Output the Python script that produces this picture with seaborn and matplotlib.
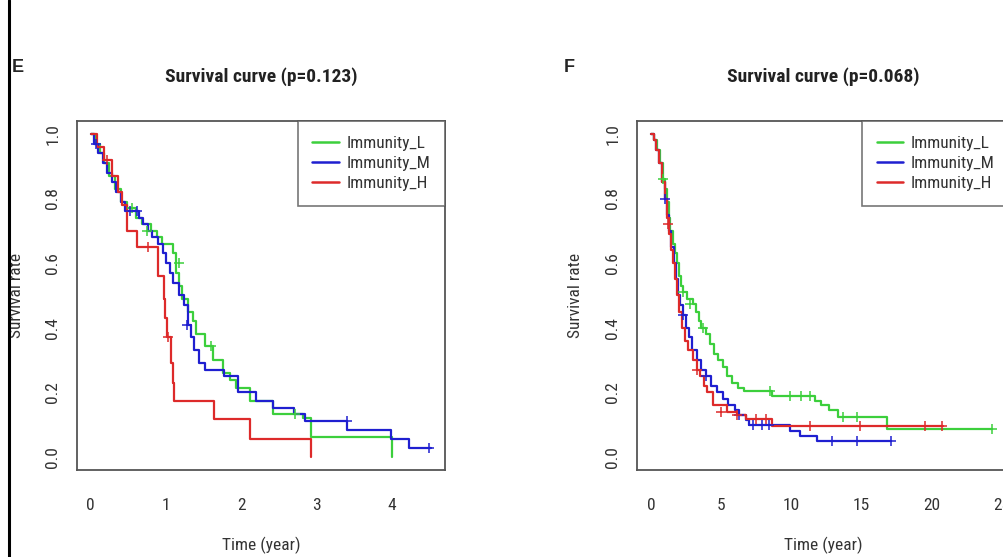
import numpy as np
import pandas as pd
import seaborn as sns
import matplotlib.pyplot as plt
from matplotlib.lines import Line2D
from matplotlib import font_manager

groups = ['Immunity_L', 'Immunity_M', 'Immunity_H']
colours = {'Immunity_L': '#3ccf3c', 'Immunity_M': '#1f1fd0', 'Immunity_H': '#dd2a2a'}

# ---- panel E (left) : step curves ----
e_L_time = [0, 0.06, 0.12, 0.18, 0.25, 0.32, 0.40, 0.48, 0.60, 0.68, 0.80, 0.88, 0.95, 1.10, 1.13,
            1.18, 1.22, 1.30, 1.36, 1.40, 1.52, 1.63, 1.76, 1.85, 1.93, 2.12, 2.42, 2.82, 2.93, 4.01]
e_L_surv = [1.0, 0.97, 0.94, 0.91, 0.87, 0.83, 0.79, 0.77, 0.74, 0.72, 0.70, 0.68, 0.66, 0.63, 0.57,
            0.53, 0.49, 0.45, 0.42, 0.38, 0.345, 0.30, 0.26, 0.24, 0.215, 0.175, 0.133, 0.12, 0.062, 0.0]
e_M_time = [0, 0.05, 0.10, 0.16, 0.22, 0.28, 0.34, 0.40, 0.46, 0.64, 0.70, 0.76, 0.82, 0.90, 0.96,
            1.00, 1.05, 1.10, 1.18, 1.24, 1.30, 1.34, 1.38, 1.44, 1.52, 1.78, 1.96, 2.20, 2.43, 2.70,
            2.85, 3.41, 3.99, 4.23, 4.53]
e_M_surv = [1.0, 0.97, 0.94, 0.91, 0.88, 0.85, 0.82, 0.79, 0.76, 0.74, 0.72, 0.70, 0.68, 0.66, 0.63,
            0.60, 0.57, 0.54, 0.50, 0.47, 0.41, 0.37, 0.33, 0.29, 0.268, 0.25, 0.20, 0.175, 0.153, 0.133,
            0.112, 0.084, 0.056, 0.028, 0.028]
e_H_time = [0, 0.08, 0.18, 0.28, 0.36, 0.42, 0.49, 0.62, 0.89, 0.97, 0.99, 1.01, 1.07, 1.09, 1.11,
            1.64, 2.12, 2.93]
e_H_surv = [1.0, 0.96, 0.92, 0.87, 0.82, 0.78, 0.70, 0.65, 0.56, 0.49, 0.43, 0.37, 0.29, 0.23, 0.174,
            0.118, 0.056, 0.0]

e_L_cens_t = [0.55, 0.75, 1.17, 1.60, 2.72]
e_L_cens_s = [0.77, 0.70, 0.60, 0.345, 0.133]
e_M_cens_t = [0.07, 0.53, 0.62, 1.28, 3.41, 4.50]
e_M_cens_s = [0.97, 0.76, 0.76, 0.41, 0.112, 0.028]
e_H_cens_t = [0.22, 0.77, 1.03]
e_H_cens_s = [0.92, 0.65, 0.37]

# ---- panel F (right) ----
f_L_time = [0, 0.25, 0.45, 0.65, 0.85, 1.0, 1.14, 1.28, 1.4, 1.55, 1.7, 1.85, 2.0, 2.15, 2.3, 2.6,
            3.0, 3.2, 3.4, 3.6, 3.9, 4.2, 4.5, 4.8, 5.1, 5.4, 5.8, 6.2, 6.6, 8.6, 11.7, 12.1, 12.7,
            13.3, 16.8, 24.3]
f_L_surv = [1.0, 0.98, 0.95, 0.91, 0.86, 0.83, 0.79, 0.74, 0.70, 0.66, 0.63, 0.60, 0.56, 0.53, 0.51,
            0.49, 0.475, 0.45, 0.42, 0.40, 0.38, 0.35, 0.32, 0.30, 0.28, 0.25, 0.23, 0.215, 0.205, 0.19,
            0.175, 0.16, 0.145, 0.125, 0.087, 0.087]
f_M_time = [0, 0.2, 0.4, 0.6, 0.8, 1.0, 1.15, 1.3, 1.45, 1.64, 1.8, 1.95, 2.1, 2.3, 2.5, 2.7, 2.95,
            3.25, 3.6, 3.95, 4.3, 4.7, 5.1, 5.5, 6.0, 6.3, 6.8, 7.0, 9.9, 10.6, 11.8, 17.1]
f_M_surv = [1.0, 0.98, 0.95, 0.91, 0.85, 0.80, 0.75, 0.70, 0.65, 0.60, 0.55, 0.50, 0.47, 0.44, 0.40,
            0.37, 0.33, 0.30, 0.27, 0.25, 0.22, 0.20, 0.18, 0.16, 0.145, 0.13, 0.115, 0.10, 0.081,
            0.065, 0.05, 0.05]
f_H_time = [0, 0.2, 0.4, 0.6, 0.8, 1.0, 1.15, 1.3, 1.45, 1.6, 1.7, 1.83, 2.0, 2.2, 2.4, 2.65, 3.0,
            3.25, 3.5, 3.75, 4.0, 4.4, 5.4, 6.1, 6.8, 8.6, 20.8]
f_H_surv = [1.0, 0.98, 0.95, 0.91, 0.85, 0.80, 0.74, 0.69, 0.64, 0.60, 0.55, 0.50, 0.45, 0.40, 0.36,
            0.33, 0.30, 0.27, 0.25, 0.22, 0.20, 0.16, 0.14, 0.13, 0.117, 0.095, 0.095]

f_L_cens_t = [0.9, 2.3, 2.8, 3.7, 8.5, 9.9, 10.7, 11.3, 13.7, 14.7, 24.3]
f_L_cens_s = [0.86, 0.51, 0.475, 0.40, 0.205, 0.19, 0.19, 0.19, 0.125, 0.125, 0.087]
f_M_cens_t = [1.0, 2.3, 3.9, 6.3, 7.3, 7.9, 8.4, 12.9, 14.7, 17.1]
f_M_cens_s = [0.80, 0.44, 0.25, 0.13, 0.10, 0.10, 0.10, 0.05, 0.05, 0.05]
f_H_cens_t = [1.2, 3.3, 5.0, 6.1, 7.5, 8.2, 11.3, 14.9, 19.5, 20.7]
f_H_cens_s = [0.72, 0.27, 0.14, 0.13, 0.117, 0.117, 0.095, 0.095, 0.095, 0.095]


# R plots of this kind use a narrow Helvetica - use a narrow face if one is around
installed = {f.name for f in font_manager.fontManager.ttflist}
narrow = [n for n in ['Liberation Sans Narrow', 'Arial Narrow', 'Roboto Condensed',
                      'Open Sans Condensed', 'Noto Sans Condensed', 'DejaVu Sans Condensed']
          if n in installed]
narrow += sorted(n for n in installed if ('Narrow' in n or 'Condensed' in n) and n not in narrow)
if narrow:
    FONT = [narrow[0], 'Liberation Sans', 'DejaVu Sans']
    BASE = 12.5
else:
    FONT = ['Liberation Sans', 'DejaVu Sans']
    BASE = 10.5


def to_frame(pairs):
    parts = []
    for g, (t, s) in zip(groups, pairs):
        parts.append(pd.DataFrame({'time': t, 'surv': s, 'group': g}))
    return pd.concat(parts, ignore_index=True)


def km_panel(ax, curves, cens, title, xticks, xlim):
    sns.lineplot(data=to_frame(curves), x='time', y='surv', hue='group', hue_order=groups,
                 palette=colours, estimator=None, sort=False, drawstyle='steps-post',
                 lw=1.6, legend=False, ax=ax)
    cdf = to_frame(cens)
    for g in groups:
        sub = cdf[cdf.group == g]
        ax.scatter(sub.time, sub.surv, marker='+', s=48, lw=1.1, color=colours[g], zorder=3)

    ax.set_xlim(*xlim)
    ax.set_ylim(-0.04, 1.04)
    ax.set_xticks(xticks)
    ax.set_xticklabels([str(x) for x in xticks])
    yt = [0.0, 0.2, 0.4, 0.6, 0.8, 1.0]
    ax.set_yticks(yt)
    ax.set_yticklabels(['%.1f' % v for v in yt], rotation=90, va='center')
    ax.tick_params(direction='out', width=1, color='#555555', labelsize=BASE,
                   labelcolor='#333333')
    ax.tick_params(axis='x', length=9, pad=11)
    ax.tick_params(axis='y', length=6, pad=6)
    for sp in ax.spines.values():
        sp.set_visible(True)
        sp.set_color('#555555')
        sp.set_linewidth(1.3)

    ax.set_title(title, fontsize=BASE + 1.5, fontweight='bold', color='#222222', pad=28)
    ax.set_xlabel('Time (year)', fontsize=BASE, color='#333333')
    ax.set_ylabel('Survival rate', fontsize=BASE, color='#333333')
    ax.xaxis.set_label_coords(0.5, -0.19)
    ax.yaxis.set_label_coords(-0.145, 0.5)

    handles = [Line2D([], [], color=colours[g], lw=1.8) for g in groups]
    leg = ax.legend(handles, groups, loc='upper right', frameon=True, fancybox=False,
                    edgecolor='#555555', borderaxespad=0, fontsize=BASE,
                    handlelength=1.5, borderpad=0.85, labelspacing=0.28, handletextpad=0.45)
    leg.get_frame().set_linewidth(1.2)
    for txt in leg.get_texts():
        txt.set_color('#333333')


sns.set_style('white')
plt.rcParams['font.family'] = FONT

fig = plt.figure(figsize=(10.04, 5.57), dpi=100)
ax1 = fig.add_axes([0.0767, 0.1562, 0.3665, 0.6266])
ax2 = fig.add_axes([0.6345, 0.1562, 0.3705, 0.6266])

km_panel(ax1,
         [(e_L_time, e_L_surv), (e_M_time, e_M_surv), (e_H_time, e_H_surv)],
         [(e_L_cens_t, e_L_cens_s), (e_M_cens_t, e_M_cens_s), (e_H_cens_t, e_H_cens_s)],
         'Survival curve (p=0.123)', [0, 1, 2, 3, 4], (-0.18, 4.71))
km_panel(ax2,
         [(f_L_time, f_L_surv), (f_M_time, f_M_surv), (f_H_time, f_H_surv)],
         [(f_L_cens_t, f_L_cens_s), (f_M_cens_t, f_M_cens_s), (f_H_cens_t, f_H_cens_s)],
         'Survival curve (p=0.068)', [0, 5, 10, 15, 20, 25], (-0.98, 25.48))

fig.text(0.012, 1 - 67 / 557, 'E', fontsize=13, fontweight='bold', va='center',
         family=['Liberation Sans', 'DejaVu Sans'])
fig.text(0.562, 1 - 67 / 557, 'F', fontsize=13, fontweight='bold', va='center',
         family=['Liberation Sans', 'DejaVu Sans'])
fig.add_artist(Line2D([0.009, 0.009], [0, 1], color='black', lw=2.2, transform=fig.transFigure))

fig.savefig('out.png', dpi=100)
